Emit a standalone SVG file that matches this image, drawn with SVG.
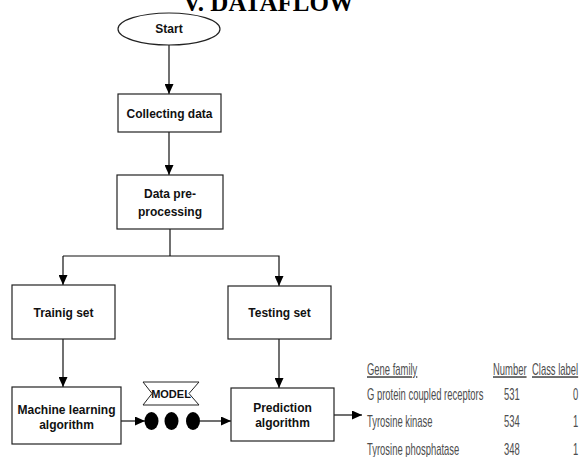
<svg xmlns="http://www.w3.org/2000/svg" width="579" height="457" viewBox="0 0 579 457">
<style>
.box{fill:#fff;stroke:#222;stroke-width:1.2}
.lbl{font-family:"Liberation Sans",Arial,sans-serif;font-weight:bold;font-size:12px;fill:#111;text-anchor:middle}
.con{fill:none;stroke:#111;stroke-width:1.2}
.tbl{font-family:"Liberation Sans",Arial,sans-serif;font-size:16px;fill:#4d4d4d}
.title{font-family:"Liberation Serif","Times New Roman",serif;font-weight:bold;font-size:25px;fill:#000}
</style>
<defs>
<marker id="ah" markerUnits="userSpaceOnUse" markerWidth="10" markerHeight="9" refX="10" refY="4.5" orient="auto">
<path d="M0,0 L10,4.5 L0,9 z" fill="#000"/>
</marker>
</defs>
<rect width="579" height="457" fill="#fff"/>
<text class="title" x="183" y="11">V.  DATAFLOW</text>

<g id="connectors">
<line class="con" x1="169" y1="45" x2="169" y2="94" marker-end="url(#ah)"/>
<line class="con" x1="169" y1="132" x2="169" y2="175" marker-end="url(#ah)"/>
<polyline class="con" points="170,229 170,256"/>
<polyline class="con" points="63,256 279,256 279,286" marker-end="url(#ah)"/>
<line class="con" x1="63" y1="256" x2="63" y2="285" marker-end="url(#ah)"/>
<line class="con" x1="63" y1="339" x2="63" y2="387" marker-end="url(#ah)"/>
<line class="con" x1="279" y1="339" x2="279" y2="388" marker-end="url(#ah)"/>
<line class="con" x1="121" y1="421" x2="145" y2="421" marker-end="url(#ah)"/>
<line class="con" x1="200" y1="421" x2="231" y2="421" marker-end="url(#ah)"/>
<line class="con" x1="334" y1="415" x2="362" y2="415" marker-end="url(#ah)"/>
</g>

<g id="start">
<ellipse cx="169" cy="29" rx="51" ry="16" fill="#fff" stroke="#222" stroke-width="1.2"/>
<text class="lbl" x="169" y="33">Start</text>
</g>
<g id="collecting">
<rect class="box" x="118" y="94" width="103" height="38"/>
<text class="lbl" x="169.5" y="118">Collecting data</text>
</g>
<g id="preprocessing">
<rect class="box" x="117" y="175" width="106" height="54"/>
<text class="lbl" x="170" y="198">Data pre-</text>
<text class="lbl" x="170" y="216">processing</text>
</g>
<g id="training">
<rect class="box" x="12" y="285" width="103" height="54"/>
<text class="lbl" x="63.5" y="317">Trainig set</text>
</g>
<g id="testing">
<rect class="box" x="228" y="286" width="103" height="53"/>
<text class="lbl" x="279.5" y="317">Testing set</text>
</g>
<g id="ml">
<rect class="box" x="12" y="387" width="109" height="57"/>
<text class="lbl" x="66.5" y="414">Machine learning</text>
<text class="lbl" x="66.5" y="429">algorithm</text>
</g>
<g id="model">
<path d="M143,382 L199,382 L189,393.5 L199,405 L143,405 L152,393.5 Z" fill="#fff" stroke="#222" stroke-width="1"/>
<text class="lbl" x="171" y="398" style="font-size:11px">MODEL</text>
<ellipse cx="151.5" cy="421" rx="7" ry="9" fill="#000"/>
<ellipse cx="171.5" cy="421" rx="7" ry="9" fill="#000"/>
<ellipse cx="193" cy="421" rx="7" ry="9" fill="#000"/>
</g>
<g id="prediction">
<rect class="box" x="231" y="388" width="103" height="53"/>
<text class="lbl" x="282.5" y="412">Prediction</text>
<text class="lbl" x="282.5" y="427">algorithm</text>
</g>
<g id="table">
<text class="tbl" transform="translate(367,375) scale(0.59,1)" text-decoration="underline">Gene family</text>
<text class="tbl" transform="translate(493,375) scale(0.59,1)" text-decoration="underline">Number</text>
<text class="tbl" transform="translate(532,375) scale(0.59,1)" text-decoration="underline">Class label</text>
<text class="tbl" transform="translate(367,400) scale(0.59,1)">G protein coupled receptors</text>
<text class="tbl" transform="translate(504,400) scale(0.59,1)">531</text>
<text class="tbl" transform="translate(573,400) scale(0.59,1)">0</text>
<text class="tbl" transform="translate(367,427) scale(0.59,1)">Tyrosine kinase</text>
<text class="tbl" transform="translate(504,427) scale(0.59,1)">534</text>
<text class="tbl" transform="translate(573,427) scale(0.59,1)">1</text>
<text class="tbl" transform="translate(367,455) scale(0.59,1)">Tyrosine phosphatase</text>
<text class="tbl" transform="translate(504,455) scale(0.59,1)">348</text>
<text class="tbl" transform="translate(573,455) scale(0.59,1)">1</text>
</g>
</svg>
